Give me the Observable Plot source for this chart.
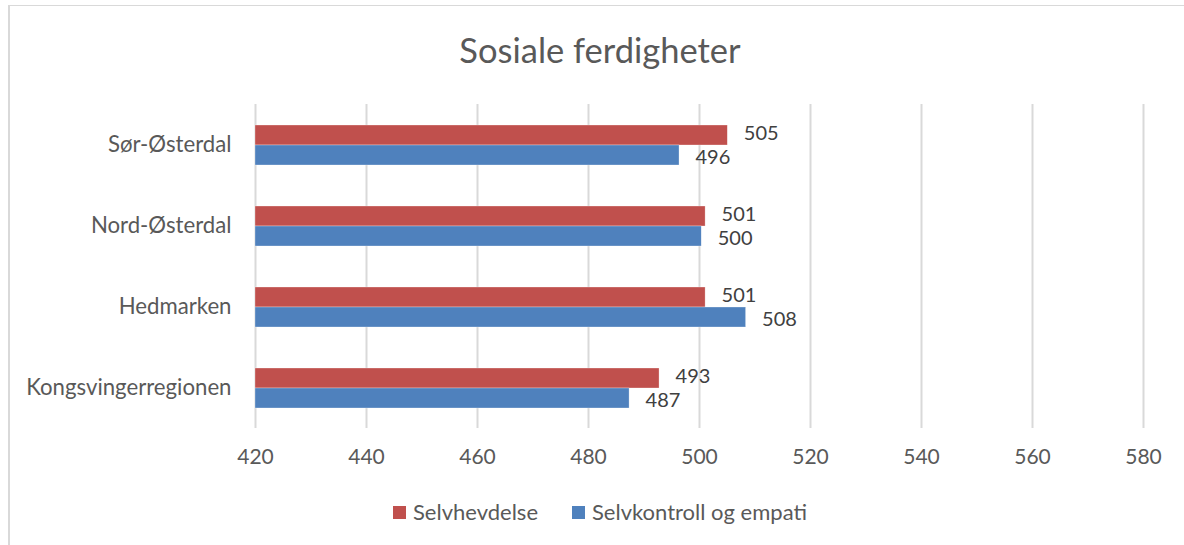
<!DOCTYPE html>
<html>
<head>
<meta charset="utf-8">
<script src="https://cdn.jsdelivr.net/npm/d3@7"></script>
<script src="https://cdn.jsdelivr.net/npm/@observablehq/plot@0.6"></script>
<style>
  html, body { margin: 0; padding: 0; background: #fff; }
  #wrap { position: relative; width: 1184px; height: 545px; overflow: hidden; font-family: Lato, "Open Sans", sans-serif; }
  #frame { position: absolute; left: 8px; top: 5px; right: -10px; bottom: -10px; border-top: 1px solid #d9d9d9; border-left: 2px solid #d9d9d9; }
  #title { position: absolute; top: 29px; left: 16px; width: 1168px; text-align: center; font-size: 34.5px; line-height: 42px; color: #595959; }
  #chart { position: absolute; top: 90px; left: 0; }
  #legend { position: absolute; top: 500px; left: 0; width: 1184px; display: flex; justify-content: center; padding-left: 16px; box-sizing: border-box; font-size: 22px; line-height: 24px; color: #595959; }
  .item { display: flex; align-items: center; margin: 0 17px; }
  .sw { width: 13px; height: 13px; margin-right: 7px; }
</style>
</head>
<body>
<div id="wrap">
  <div id="frame"></div>
  <div id="title">Sosiale ferdigheter</div>
  <div id="chart"></div>
  <div id="legend"></div>
</div>
<script>
const regions = ["Sør-Østerdal", "Nord-Østerdal", "Hedmarken", "Kongsvingerregionen"];
const seriesNames = ["Selvhevdelse", "Selvkontroll og empati"];
const selvhevdelse = [505.1, 501.1, 501.1, 492.8];
const selvkontroll = [496.4, 500.4, 508.4, 487.4];
const seriesColors = ["#C0504D", "#4F81BD"];
const xTicks = [420, 440, 460, 480, 500, 520, 540, 560, 580];
const axisMin = 420;
const axisMax = 580;

const data = [];
regions.forEach((r, i) => {
  data.push({region: r, series: seriesNames[0], value: selvhevdelse[i], shift: -1});
  data.push({region: r, series: seriesNames[1], value: selvkontroll[i], shift: 1});
});

const plot = Plot.plot({
  width: 1184,
  height: 390,
  marginLeft: 255,
  marginRight: 41,
  marginTop: 14,
  marginBottom: 52,
  style: { fontFamily: "Lato, 'Open Sans', sans-serif", fontSize: "21px", color: "#595959", background: "transparent" },
  x: { domain: [axisMin, axisMax], ticks: xTicks, label: null },
  fy: { domain: regions, padding: 0, label: null },
  y: { domain: seriesNames, paddingInner: 0, paddingOuter: 0.93, axis: null },
  color: { domain: seriesNames, range: seriesColors },
  marks: [
    Plot.ruleX(xTicks, { stroke: "#d9d9d9", strokeWidth: 2, strokeOpacity: 1 }),
    Plot.axisX({ ticks: xTicks, tickSize: 0, tickPadding: 21, fontSize: 21, fill: "#595959", label: null, facetAnchor: "bottom" }),
    Plot.axisFy({ tickSize: 0, tickPadding: 24, fontSize: 22.2, fill: "#595959", label: null, anchor: "left" }),
    Plot.barX(data, { fy: "region", y: "series", x1: () => axisMin, x2: "value", fill: "series", stroke: "#fff", strokeWidth: 0.5, strokeOpacity: 0.6 }),
    Plot.text(data.filter(d => d.shift < 0), { fy: "region", y: "series", x: "value", text: d => d3.format(".0f")(d.value), textAnchor: "start", dx: 16, dy: -2, fontSize: 20, lineHeight: 0.95, fill: "#404040" }),
    Plot.text(data.filter(d => d.shift > 0), { fy: "region", y: "series", x: "value", text: d => d3.format(".0f")(d.value), textAnchor: "start", dx: 16, dy: 2, fontSize: 20, lineHeight: 0.95, fill: "#404040" })
  ]
});
document.getElementById("chart").appendChild(plot);

const legend = document.getElementById("legend");
seriesNames.forEach((name, i) => {
  const item = document.createElement("div");
  item.className = "item";
  const sw = document.createElement("div");
  sw.className = "sw";
  sw.style.background = seriesColors[i];
  const lab = document.createElement("span");
  lab.textContent = name;
  item.appendChild(sw);
  item.appendChild(lab);
  legend.appendChild(item);
});
</script>
</body>
</html>
